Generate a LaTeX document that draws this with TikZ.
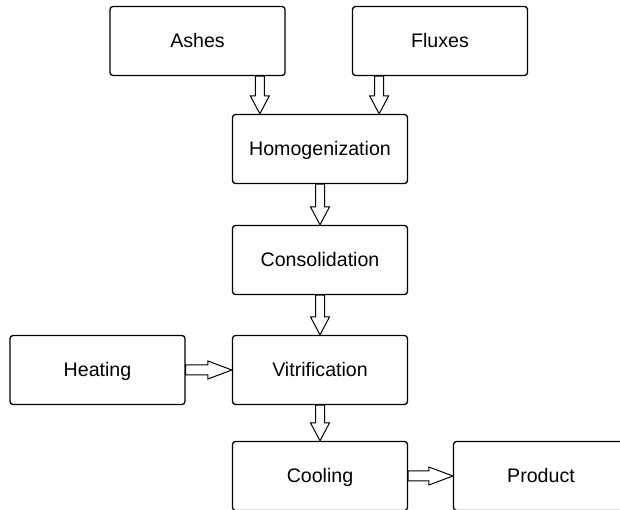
\documentclass[tikz,border=0pt]{standalone}
\usepackage{fontspec}
\setmainfont{Liberation Sans}
\usetikzlibrary{calc}
\tikzset{
  box/.style={draw=black, line width=1.3pt, rounded corners=3pt, minimum width=175pt, minimum height=69pt, inner sep=0pt, text height=14pt, text depth=0pt, font=\fontsize{19.6}{22}\selectfont, fill=white},
  blk/.style={draw=black, line width=1pt, fill=white, line join=miter}
}
\newcommand{\vblock}[2]{\draw[blk] let \p1=(#1), \p2=(#2) in (\x1-4.5pt,\y1) -- (\x1+4.5pt,\y1) -- (\x1+4.5pt,\y2+18pt) -- (\x1+9.5pt,\y2+18pt) -- (\x1,\y2) -- (\x1-9.5pt,\y2+18pt) -- (\x1-4.5pt,\y2+18pt) -- cycle;}
\newcommand{\hblock}[2]{\draw[blk] let \p1=(#1), \p2=(#2) in (\x1,\y1+5pt) -- (\x2-24pt,\y1+5pt) -- (\x2-24pt,\y1+9pt) -- (\x2,\y1) -- (\x2-24pt,\y1-9pt) -- (\x2-24pt,\y1-5pt) -- (\x1,\y1-5pt) -- cycle;}
\begin{document}
\begin{tikzpicture}[x=1pt,y=1pt]
\useasboundingbox (0,0) rectangle (620,510);
\fill[white] (0,0) rectangle (620,510);
\clip (0,0) rectangle (620,510);
\node[box] (ashes) at (197.5,469) {Ashes};
\node[box] (fluxes) at (440,469) {Fluxes};
\node[box] (homog) at (320,361) {Homogenization};
\node[box] (consol) at (320,250) {Consolidation};
\node[box] (vitr) at (320,140) {Vitrification};
\node[box] (heat) at (97.5,140) {Heating};
\node[box] (cool) at (320,34) {Cooling};
\node[box] (prod) at (541,34) {Product};
\coordinate (a1) at ($(homog.north west)+(28,0)$);
\coordinate (a2) at ($(homog.north east)+(-29,0)$);
\vblock{ashes.south -| a1}{homog.north -| a1}
\vblock{fluxes.south -| a2}{homog.north -| a2}
\vblock{homog.south}{consol.north}
\vblock{consol.south}{vitr.north}
\vblock{vitr.south}{cool.north}
\hblock{heat.east}{vitr.west}
\hblock{cool.east}{prod.west}
\end{tikzpicture}
\end{document}
